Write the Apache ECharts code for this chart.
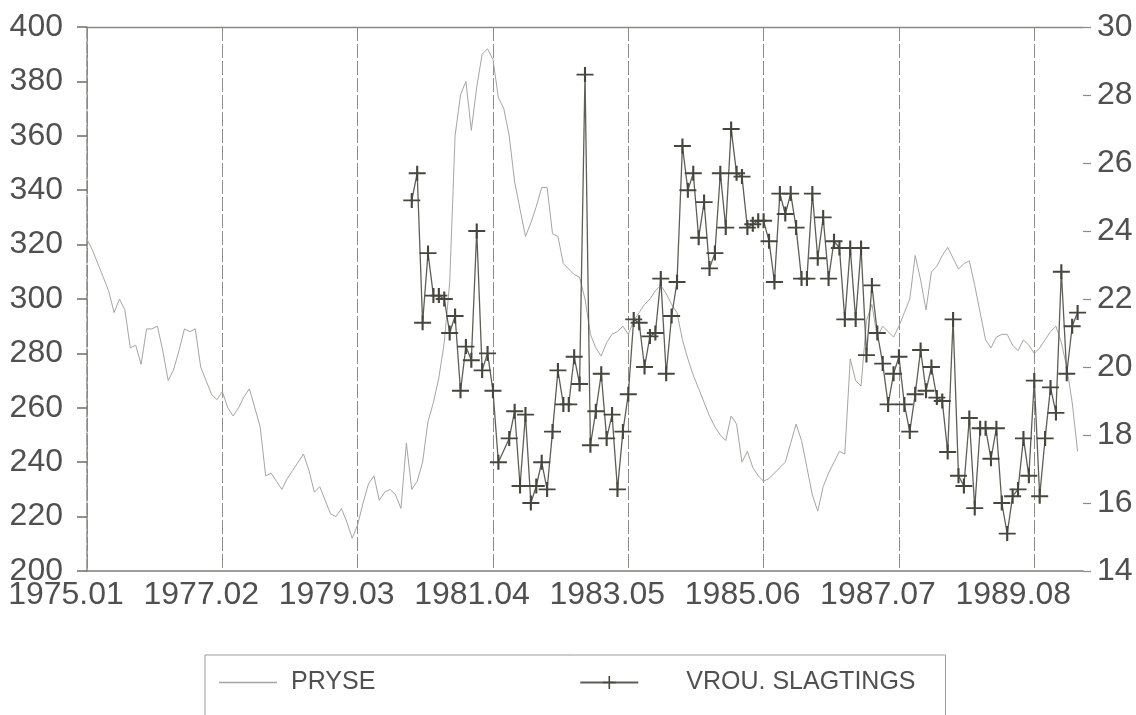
<!DOCTYPE html>
<html><head><meta charset="utf-8">
<script src="https://cdn.jsdelivr.net/npm/echarts@6/dist/echarts.min.js"></script>
<style>html,body{margin:0;padding:0;background:#fff}#c{width:1136px;height:715px}</style>
</head><body><div id="c"></div>
<script>
// ---- data ----
const startYear = 1975, startMonth = 1, monthCount = 185; // 1975.01 .. 1990.05
const categories = [];
for (let k = 0; k < monthCount; k++) {
  const y = startYear + Math.floor((startMonth - 1 + k) / 12);
  const m = (startMonth - 1 + k) % 12 + 1;
  categories.push(y + '.' + String(m).padStart(2, '0'));
}
const seriesNames = ['PRYSE', 'VROU. SLAGTINGS'];
// PRYSE, monthly from 1975.01 (left axis)
const pryse = [
 322,318,313,308,303,295,300,296,282,283,276,289,289,290,281,270,274,281,289,288,
 289,275,270,265,263,266,260,257,260,264,267,260,253,235,236,233,230,234,237,240,
 243,237,229,231,226,221,220,223,218,212,217,225,232,235,226,229,230,228,223,247,
 230,233,240,255,262,271,284,306,360,375,380,362,378,390,392,388,374,370,360,343,
 333,323,328,334,341,341,324,323,313,311,309,308,300,287,282,279,284,287,288,290,
 287,292,295,298,300,303,305,302,298,295,285,278,272,267,262,257,253,250,248,257,
 254,240,244,238,235,233,234,236,238,240,247,254,248,238,228,222,231,236,240,244,
 243,278,270,268,292,298,286,290,288,286,290,295,300,316,307,296,310,312,316,319,
 315,311,313,314,305,295,285,282,286,287,287,283,281,285,283,280,282,285,288,290,
 284,275,262,244
];
// VROU. SLAGTINGS, monthly from 1980.01 (right axis); null = no mark read
const vrouStart = '1980.01';
const vrouSlagtings = [
 24.9,25.7,21.3,23.35,22.1,22.1,22.0,21.0,21.5,19.3,20.6,20.2,24.0,19.9,20.4,19.3,17.2,
 null,
 17.9,18.7,16.5,18.6,16.0,16.5,17.2,16.4,18.1,19.9,18.9,18.9,20.3,19.5,28.6,17.7,18.7,19.8,17.9,18.6,16.4,18.1,
 19.2,21.4,21.3,20.0,20.9,21.0,22.6,19.8,21.5,22.5,26.5,25.2,25.7,23.8,24.85,22.9,23.35,25.7,24.1,27.0,
 25.7,25.6,24.1,24.2,24.3,
 24.3,23.7,22.5,25.1,24.5,25.1,24.1,22.6,22.6,25.1,23.2,24.4,22.6,23.7,23.5,21.4,23.5,21.4,23.5,20.35,
 22.4,21.0,20.1,18.9,19.8,20.3,18.9,18.1,19.2,20.5,19.3,20.0,19.1,19.0,17.5,21.4,16.8,16.5,18.5,15.85,
 18.2,18.2,17.3,18.2,16.0,15.1,16.2,16.4,17.9,16.8,19.6,16.2,17.9,19.4,18.65,22.8,19.8,21.2,21.6
];
const leftAxis = {min: 200, max: 400, interval: 20};
const rightAxis = {min: 14, max: 30, interval: 2};
const labelEvery = 25; // months between tick labels

// ---- build ----
const vrouOffset = categories.indexOf(vrouStart);
const vrouFull = categories.map((c, k) => {
  const j = k - vrouOffset;
  return (j >= 0 && j < vrouSlagtings.length) ? vrouSlagtings[j] : null;
});
const pryseFull = categories.map((c, k) => k < pryse.length ? pryse[k] : null);

const txt = '#505050';
const axisFont = "'Liberation Sans', Arial, sans-serif";
const plus = 'path://M7,0H9V7H16V9H9V16H7V9H0V7H7Z';

const chart = echarts.init(document.getElementById('c'), null, {renderer: 'canvas'});
chart.setOption({
  animation: false,
  backgroundColor: '#ffffff',
  grid: {left: 87, right: 53, top: 27, bottom: 144, containLabel: false},
  legend: {
    left: 205, top: 655,
    padding: [15, 30, 24, 14],
    borderColor: '#9a9a96', borderWidth: 1,
    itemWidth: 58, itemHeight: 16, itemGap: 204,
    textStyle: {fontFamily: axisFont, fontSize: 25, color: txt, padding: [0, 0, 0, 9]},
    data: [
      {name: seriesNames[0], icon: 'path://M0,0H58V1.3H0Z'},
      {name: seriesNames[1], textStyle: {padding: [0, 0, 0, 43]}}
    ]
  },
  xAxis: [{
    type: 'category', data: categories, boundaryGap: false,
    axisLine: {show: true, lineStyle: {color: '#7d7d78', width: 1.5}},
    axisTick: {show: false},
    axisLabel: {interval: labelEvery - 1, color: txt, fontFamily: axisFont, fontSize: 32, margin: 8, padding: [0, 42, 0, 0]},
    splitLine: {show: true, interval: labelEvery - 1, lineStyle: {color: '#8c8c88', width: 1, type: [14, 3]}}
  }, {
    type: 'category', data: categories, boundaryGap: false, position: 'top',
    axisLine: {show: true, lineStyle: {color: '#8a8a85', width: 1.3}},
    axisTick: {show: false}, axisLabel: {show: false}, splitLine: {show: false}
  }],
  yAxis: [{
    type: 'value', position: 'left', min: leftAxis.min, max: leftAxis.max, interval: leftAxis.interval,
    axisLine: {show: true, lineStyle: {color: '#8a8a85', width: 1.5, type: [12, 2]}},
    axisTick: {show: true, length: 10, lineStyle: {color: '#6d6d68', width: 1.5}},
    axisLabel: {color: txt, fontFamily: axisFont, fontSize: 32, margin: 24},
    splitLine: {show: false}
  }, {
    type: 'value', position: 'right', min: rightAxis.min, max: rightAxis.max, interval: rightAxis.interval,
    axisLine: {show: false},
    axisTick: {show: true, length: 8, lineStyle: {color: '#8a8a85', width: 1.2}},
    axisLabel: {color: txt, fontFamily: axisFont, fontSize: 32, margin: 14},
    splitLine: {show: false}
  }],
  series: [{
    name: seriesNames[0], type: 'line', yAxisIndex: 0, data: pryseFull,
    symbol: 'none', lineStyle: {color: '#a5a5a2', width: 1}, itemStyle: {color: '#a5a5a2'}
  }, {
    name: seriesNames[1], type: 'line', yAxisIndex: 1, data: vrouFull, connectNulls: true,
    symbol: plus, symbolSize: [17, 15], showAllSymbol: true,
    lineStyle: {color: '#5e5e58', width: 1.3},
    itemStyle: {color: '#46463f'}
  }]
});
</script>
</body></html>
